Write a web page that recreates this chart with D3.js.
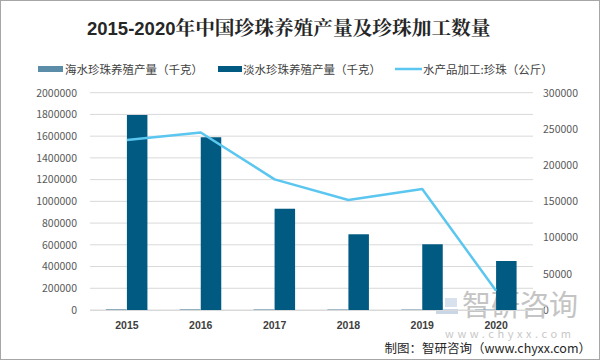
<!DOCTYPE html>
<html><head><meta charset="utf-8">
<script src="https://cdn.jsdelivr.net/npm/d3@7/dist/d3.min.js"></script>
<style>body{margin:0;background:#fff}svg{display:block}</style>
</head><body>
<svg id="c" width="600" height="360"></svg>
<script>
const years = ["2015","2016","2017","2018","2019","2020"];
const seaPearl = [6000, 5500, 5000, 4500, 4000, 3500];
const freshPearl = [1795000, 1590000, 932000, 697000, 605000, 451000];
const processedPearl = [234700, 245000, 180400, 151900, 167000, 26600];
const leftTicks = [0,200000,400000,600000,800000,1000000,1200000,1400000,1600000,1800000,2000000];
const rightTicks = [0,50000,100000,150000,200000,250000,300000];
const seriesNames = ["海水珍珠养殖产量（千克）","淡水珍珠养殖产量（千克）","水产品加工:珍珠（公斤）"];

const svg = d3.select("#c");
const font = "'Noto Sans CJK SC','Noto Sans',sans-serif";
svg.append("rect").attr("x",0.5).attr("y",0.5).attr("width",599).attr("height",359)
  .attr("fill","#fff").attr("stroke","#a6a6a6");

const L=90, R=533, T=92.7, B=310;
const x = d3.scaleBand().domain(years).range([L,R]);
const yL = d3.scaleLinear().domain([0,2000000]).range([B,T]);
const yR = d3.scaleLinear().domain([0,300000]).range([B,T]);

// gridlines
svg.append("g").selectAll("line").data(leftTicks).join("line")
  .attr("x1",L).attr("x2",R).attr("y1",d=>yL(d)).attr("y2",d=>yL(d))
  .attr("stroke","#d9d9d9").attr("stroke-width",1);

// left axis
const gl = svg.append("g").attr("transform",`translate(${L},0)`)
  .call(d3.axisLeft(yL).tickValues(leftTicks).tickSize(0).tickPadding(13).tickFormat(d3.format("d")));
gl.select(".domain").remove();
gl.selectAll("text").attr("font-family",font).attr("font-size",10.5).attr("fill","#595959");

// right axis
const gr = svg.append("g").attr("transform",`translate(${R},0)`)
  .call(d3.axisRight(yR).tickValues(rightTicks).tickSize(0).tickPadding(10).tickFormat(d3.format("d")));
gr.select(".domain").remove();
gr.selectAll("text").attr("font-family",font).attr("font-size",10.5).attr("fill","#595959");

// watermark
const wm = svg.append("g");
wm.append("rect").attr("x",436).attr("y",302).attr("width",7).attr("height",12).attr("fill","#c9d6e6");
wm.append("rect").attr("x",445).attr("y",298).attr("width",12).attr("height",9).attr("fill","#d8e2ee");
wm.append("rect").attr("x",436).attr("y",309).attr("width",22).attr("height",5).attr("fill","#c9d6e6");
wm.append("text").attr("x",462).attr("y",316).attr("font-family",font).attr("font-size",29)
  .attr("fill","#c4c4c4").text("智研咨询");
wm.append("text").attr("x",445).attr("y",338).attr("font-family",font).attr("font-size",11)
  .attr("fill","#c8c8c8").attr("letter-spacing",3.6).text("www.chyxx.com");

// bars
const bw = 20.5;
svg.append("g").selectAll("rect").data(years).join("rect")
  .attr("x",d=>x(d)+x.bandwidth()/2-bw-0.5).attr("width",bw)
  .attr("y",(d,i)=>yL(seaPearl[i])).attr("height",(d,i)=>B-yL(seaPearl[i]))
  .attr("fill","#5b8ca8");
svg.append("g").selectAll("rect").data(years).join("rect")
  .attr("x",d=>x(d)+x.bandwidth()/2).attr("width",bw)
  .attr("y",(d,i)=>yL(freshPearl[i])).attr("height",(d,i)=>B-yL(freshPearl[i]))
  .attr("fill","#005a82");

// bottom axis line
svg.append("line").attr("x1",L).attr("x2",R).attr("y1",B+0.5).attr("y2",B+0.5).attr("stroke","#d9d9d9");

// line
const line = d3.line().x((d,i)=>x(years[i])+x.bandwidth()/2).y(d=>yR(d));
svg.append("path").datum(processedPearl).attr("d",line).attr("fill","none")
  .attr("stroke","#5bc6ef").attr("stroke-width",2.5).attr("stroke-linejoin","round");

// x labels
svg.append("g").selectAll("text").data(years).join("text")
  .attr("x",d=>x(d)+x.bandwidth()/2).attr("y",329).attr("text-anchor","middle")
  .attr("font-family","'Liberation Sans',sans-serif").attr("font-size",10.5).attr("font-weight","bold")
  .attr("fill","#404040").text(d=>d);

// title
const title = svg.append("text").attr("x",87).attr("y",35)
  .attr("font-size",18.5).attr("font-weight","bold").attr("fill","#262626");
title.append("tspan").attr("font-family","'Liberation Sans',sans-serif").text("2015-2020");
title.append("tspan").attr("font-family","'Noto Serif CJK SC','Noto Sans CJK SC',serif").attr("font-size",19.7)
  .text("年中国珍珠养殖产量及珍珠加工数量");

// legend
const lg = svg.append("g").attr("font-family",font).attr("font-size",11.5).attr("fill","#404040");
lg.append("rect").attr("x",38).attr("y",66).attr("width",25).attr("height",6).attr("fill","#5b8ca8");
lg.append("text").attr("x",65).attr("y",73.5).text(seriesNames[0]);
lg.append("rect").attr("x",218).attr("y",66).attr("width",24).attr("height",6).attr("fill","#005a82");
lg.append("text").attr("x",243).attr("y",73.5).text(seriesNames[1]);
lg.append("line").attr("x1",395).attr("x2",422).attr("y1",69).attr("y2",69).attr("stroke","#5bc6ef").attr("stroke-width",2.5);
lg.append("text").attr("x",423).attr("y",73.5).text(seriesNames[2]);

// source
svg.append("text").attr("x",591).attr("y",353).attr("text-anchor","end")
  .attr("font-family",font).attr("font-size",12.5).attr("fill","#262626")
  .text("制图：智研咨询（www.chyxx.com）");
</script>
</body></html>
